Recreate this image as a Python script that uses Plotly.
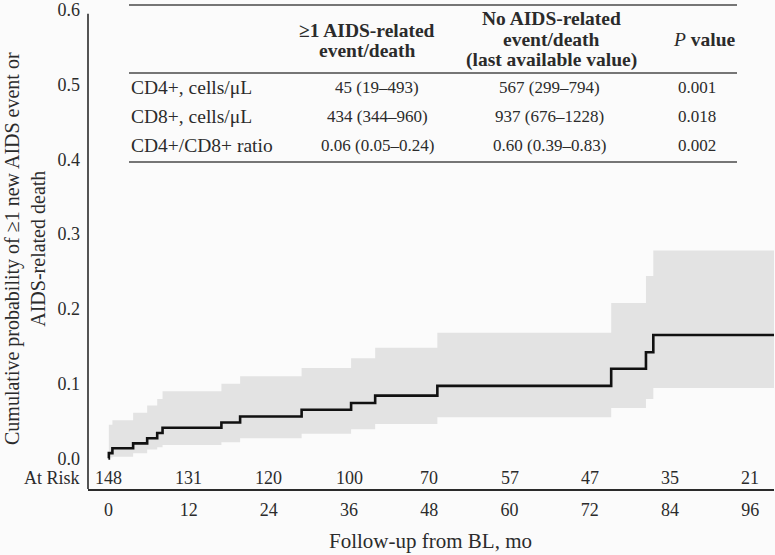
import plotly.graph_objects as go

# ---------------- data ----------------
event_months = [0, 0.07, 0.6, 3.7, 5.8, 7.3, 8.1, 16.9, 19.7, 28.9, 36.3, 39.9, 49.2, 75.2, 80.4, 81.5]
cum_prob = [0, 0.007, 0.0135, 0.020, 0.027, 0.034, 0.041, 0.048, 0.056, 0.065, 0.074, 0.084, 0.097, 0.120, 0.142, 0.165]
ci_lower = [0, 0.001, 0.002, 0.007, 0.012, 0.015, 0.018, 0.0215, 0.027, 0.033, 0.039, 0.046, 0.055, 0.0675, 0.0795, 0.094]
ci_upper = [0, 0.045, 0.051, 0.061, 0.0706, 0.0795, 0.0897, 0.100, 0.110, 0.121, 0.134, 0.148, 0.168, 0.208, 0.244, 0.278]
last_followup = 99.55

at_risk_months = [0, 12, 24, 36, 48, 60, 72, 84, 96]
at_risk_counts = [148, 131, 120, 100, 70, 57, 47, 35, 21]

y_ticks = [0.0, 0.1, 0.2, 0.3, 0.4, 0.5, 0.6]

row_labels = ["CD4+, cells/μL", "CD8+, cells/μL", "CD4+/CD8+ ratio"]
event_vals = ["45 (19–493)", "434 (344–960)", "0.06 (0.05–0.24)"]
no_event_vals = ["567 (299–794)", "937 (676–1228)", "0.60 (0.39–0.83)"]
p_vals = ["0.001", "0.018", "0.002"]
header_event = ["≥1 AIDS-related", "event/death"]
header_no_event = ["No AIDS-related", "event/death", "(last available value)"]

# ---------------- layout helpers ----------------
W, H = 775, 555
PL, PT, PW, PH = 88, 10, 686, 479
FONT = "Liberation Serif"
BG = "#fbfbfb"
INK = "#2b2b2b"


def fx(px):
    return (px - PL) / PW


def fy(py):
    return (PT + PH - py) / PH


# curve arrays
cx = event_months + [last_followup]
cy = cum_prob + [cum_prob[-1]]
bx = event_months[1:] + [last_followup]
blo = ci_lower[1:] + [ci_lower[-1]]
bup = ci_upper[1:] + [ci_upper[-1]]

fig = go.Figure()
fig.add_trace(go.Scatter(x=bx, y=blo, mode="lines", line=dict(width=0, shape="hv", color="rgba(0,0,0,0)"),
                         hoverinfo="skip", showlegend=False))
fig.add_trace(go.Scatter(x=bx, y=bup, mode="lines", line=dict(width=0, shape="hv", color="rgba(0,0,0,0)"),
                         fill="tonexty", fillcolor="#e3e3e3", hoverinfo="skip", showlegend=False))
fig.add_trace(go.Scatter(x=cx, y=cy, mode="lines", line=dict(width=2.6, shape="hv", color="#111111"),
                         showlegend=False))

annotations = []
# at risk row
for m, n in zip(at_risk_months, at_risk_counts):
    annotations.append(dict(x=m, xref="x", y=fy(478), yref="paper", text=str(n), showarrow=False,
                            xanchor="center", yanchor="middle", font=dict(size=18, color=INK, family=FONT)))
annotations.append(dict(x=fx(82), xref="paper", y=fy(478), yref="paper", text="At Risk", showarrow=False,
                        xanchor="right", yanchor="middle", font=dict(size=18, color=INK, family=FONT)))
# axis titles
annotations.append(dict(x=fx(430.5), xref="paper", y=fy(541), yref="paper", text="Follow-up from BL, mo",
                        showarrow=False, xanchor="center", yanchor="middle",
                        font=dict(size=21, color=INK, family=FONT)))
annotations.append(dict(x=fx(25), xref="paper", y=fy(249), yref="paper",
                        text="Cumulative probability of ≥1 new AIDS event or<br>AIDS-related death",
                        textangle=-90, showarrow=False, xanchor="center", yanchor="middle",
                        font=dict(size=20, color=INK, family=FONT)))

# table
lab_f = dict(size=19.5, color=INK, family=FONT)
num_f = dict(size=17, color=INK, family=FONT)
for i, t in enumerate(header_event):
    annotations.append(dict(x=fx(367), y=fy(30 + 20 * i), xref="paper", yref="paper", text=f"<b>{t}</b>",
                            showarrow=False, xanchor="center", yanchor="middle", font=lab_f))
for i, t in enumerate(header_no_event):
    annotations.append(dict(x=fx(551), y=fy(19 + 20.5 * i), xref="paper", yref="paper", text=f"<b>{t}</b>",
                            showarrow=False, xanchor="center", yanchor="middle", font=lab_f))
annotations.append(dict(x=fx(704), y=fy(39.5), xref="paper", yref="paper", text="<i>P</i> <b>value</b>",
                        showarrow=False, xanchor="center", yanchor="middle", font=lab_f))
row_y = [87.5, 116.5, 145.5]
for i in range(3):
    annotations.append(dict(x=fx(129), y=fy(row_y[i]), xref="paper", yref="paper", text=row_labels[i],
                            showarrow=False, xanchor="left", yanchor="middle", font=lab_f))
    annotations.append(dict(x=fx(377), y=fy(row_y[i]), xref="paper", yref="paper", text=event_vals[i],
                            showarrow=False, xanchor="center", yanchor="middle", font=num_f))
    annotations.append(dict(x=fx(549), y=fy(row_y[i]), xref="paper", yref="paper", text=no_event_vals[i],
                            showarrow=False, xanchor="center", yanchor="middle", font=num_f))
    annotations.append(dict(x=fx(697), y=fy(row_y[i]), xref="paper", yref="paper", text=p_vals[i],
                            showarrow=False, xanchor="center", yanchor="middle", font=num_f))

shapes = []
for py in (5, 73, 162):
    shapes.append(dict(type="line", xref="paper", yref="paper", x0=fx(129), x1=fx(737), y0=fy(py), y1=fy(py),
                       line=dict(color="#4a4a4a", width=1.5)))
# y axis line
shapes.append(dict(type="line", xref="paper", yref="y", x0=0, x1=0, y0=-0.041, y1=0.595,
                   line=dict(color=INK, width=1.6)))

fig.update_layout(
    width=W, height=H,
    margin=dict(l=PL, r=W - PL - PW, t=PT, b=H - PT - PH),
    paper_bgcolor=BG, plot_bgcolor=BG,
    font=dict(family=FONT, size=18, color=INK),
    showlegend=False,
    annotations=annotations,
    shapes=shapes,
    xaxis=dict(range=[-3.05, 99.55], tickvals=at_risk_months, ticktext=[str(v) for v in at_risk_months],
               showgrid=False, zeroline=False, showline=True, linecolor=INK, linewidth=1.6,
               ticks="", ticklabelstandoff=4, tickfont=dict(size=18, color=INK, family=FONT)),
    yaxis=dict(range=[-0.041, 0.6], tickvals=y_ticks, ticktext=[f"{v:.1f}" for v in y_ticks],
               showgrid=False, zeroline=False, showline=False, ticks="", ticklabelstandoff=7,
               tickfont=dict(size=18, color=INK, family=FONT)),
)

fig.write_html("out.html", config={"displayModeBar": False},
               post_script="document.body.style.margin='0';document.body.style.padding='0';")
